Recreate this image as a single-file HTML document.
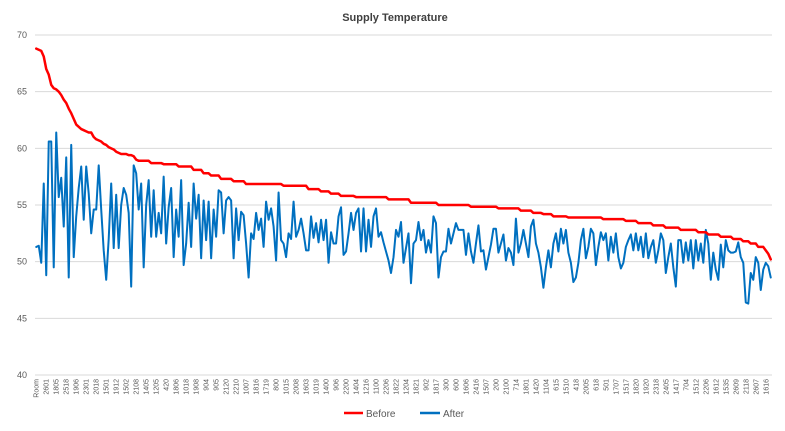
<!DOCTYPE html>
<html><head><meta charset="utf-8">
<style>
html,body{margin:0;padding:0;background:#fff;}
svg{display:block;font-family:"Liberation Sans",sans-serif;}
</style></head>
<body>
<svg id="chart" width="785" height="431" viewBox="0 0 785 431" xmlns="http://www.w3.org/2000/svg">
<rect x="0" y="0" width="785" height="431" fill="#fff"/>
<text x="395" y="21" text-anchor="middle" font-size="11" font-weight="bold" fill="#404040">Supply Temperature</text>
<g id="grid"></g>
<g id="yaxis"></g>
<g id="xaxis"></g>
<g id="series"></g>
<g>
<g>
<line x1="344" y1="413" x2="363" y2="413" stroke="#ff0000" stroke-width="2.5"/>
<text x="366" y="417" font-size="10" fill="#595959">Before</text>
</g>
<g>
<line x1="420" y1="413" x2="440" y2="413" stroke="#0070c0" stroke-width="2.5"/>
<text x="443" y="417" font-size="10" fill="#595959">After</text>
</g>
</g>
</svg>
<script>
const tickLabels = ["Room","2601","1805","2518","1906","2301","2018","1501","1912","1502","2108","1405","1205","420","1806","1018","1908","904","905","2120","2210","1007","1816","1719","800","1015","2008","1603","1019","1400","906","2200","1404","1216","1100","2206","1822","1204","1821","902","1817","300","600","1606","2416","1507","200","2100","714","1801","1420","1104","615","1510","418","2005","618","501","1707","1517","1820","1920","2318","2405","1417","704","1512","2206","1612","1535","2609","2118","2607","1616"];
const yTicks = [40,45,50,55,60,65,70];
const beforeValues = [
68.8,68.7,68.6,
68.1,67.0,66.5,65.6,65.3,65.2,65.0,64.7,64.3,64.0,
63.5,63.1,62.6,62.1,61.9,61.7,61.6,61.5,61.4,61.4,
61.0,60.8,60.7,60.6,60.4,60.3,60.1,60.0,59.9,59.7,
59.6,59.5,59.5,59.5,59.4,59.4,59.3,
59.0,58.9,58.9,58.9,58.9,58.9,
58.7,58.7,58.7,58.7,58.7,
58.6,58.6,58.6,58.6,58.6,58.6,
58.4,58.4,58.4,58.4,58.4,58.4,
58.1,58.1,58.1,58.1,
57.8,57.8,57.8,
57.6,57.6,57.6,57.6,
57.3,57.3,57.3,57.3,57.3,
57.1,57.1,57.1,57.1,57.1,
56.85,56.85,56.85,56.85,56.85,56.85,56.85,56.85,56.85,56.85,56.85,56.85,56.85,56.85,56.85,
56.7,56.7,56.7,56.7,56.7,56.7,56.7,56.7,56.7,56.7,
56.4,56.4,56.4,56.4,56.4,
56.2,56.2,56.2,56.2,
56.0,56.0,56.0,56.0,
55.8,55.8,55.8,55.8,55.8,55.8,
55.7,55.7,55.7,55.7,55.7,55.7,55.7,55.7,55.7,55.7,55.7,55.7,55.7,
55.5,55.5,55.5,55.5,55.5,55.5,55.5,55.5,55.5,
55.2,55.2,55.2,55.2,55.2,55.2,55.2,55.2,55.2,55.2,55.2,
55.0,55.0,55.0,55.0,55.0,55.0,55.0,55.0,55.0,55.0,55.0,55.0,55.0,
54.85,54.85,54.85,54.85,54.85,54.85,54.85,54.85,54.85,54.85,54.85,
54.7,54.7,54.7,54.7,54.7,54.7,54.7,54.7,54.7,
54.5,54.5,54.5,54.5,54.5,
54.3,54.3,54.3,54.3,
54.2,54.2,54.2,54.2,
54.0,54.0,54.0,54.0,54.0,54.0,
53.9,53.9,53.9,53.9,53.9,53.9,53.9,53.9,53.9,53.9,53.9,53.9,53.9,53.9,
53.75,53.75,53.75,53.75,53.75,53.75,53.75,53.75,53.75,
53.6,53.6,53.6,53.6,53.6,
53.4,53.4,53.4,53.4,53.4,53.4,
53.2,53.2,53.2,53.2,53.2,
53.0,53.0,53.0,53.0,53.0,53.0,
52.8,52.8,52.8,52.8,52.8,52.8,52.8,
52.6,52.6,52.6,52.6,
52.4,52.4,52.4,52.4,52.4,
52.2,52.2,52.2,52.2,52.2,
52.0,52.0,52.0,52.0,
51.8,51.8,51.8,
51.6,51.6,51.6,
51.3,51.3,51.3,
51.0,50.7,50.2];
const afterValues = [
51.3,51.4,49.9,56.9,48.8,60.6,60.6,49.5,61.4,55.7,57.4,53.1,59.2,48.6,60.3,50.4,54,56.5,58.4,53.7,58.4,56,52.5,54.6,54.6,58.5,54.6,51,48.4,52,56.9,51.2,55.9,51.2,55.0,56.5,
55.9,54.3,47.8,58.5,57.8,54.6,56.9,49.5,55.0,57.2,52.2,56.3,52.2,54.3,52.5,57.5,51.6,54.8,56.5,50.4,54.6,52.2,57.2,49.7,51.6,55.2,51.3,56.9,53.8,55.9,50.3,55.4,51.9,55.3,50.3,54.6,52.2,56.3,
56.1,52.5,55.4,55.7,55.4,50.3,54.7,51.9,54.4,54.1,51.6,48.6,52.5,52.0,54.3,52.8,53.8,51.3,55.3,53.7,54.7,53.1,50.1,56.1,51.9,51.6,50.4,52.5,52.0,55.3,52.2,52.8,53.8,52.5,51.0,51.0,54.0,52.1,
53.4,51.7,53.7,51.9,53.7,49.9,52.6,51.6,51.6,54.0,54.8,50.6,50.9,52.5,54.3,52.8,54.3,54.7,50.9,54.7,50.9,53.7,51.3,54.0,54.7,52.2,52.6,51.7,50.9,50.1,49.0,50.4,52.8,52.2,53.5,49.9,51.2,52.5,48.1,
51.6,51.9,53.5,51.9,52.8,50.8,51.9,50.8,54.0,53.4,48.6,50.4,50.9,50.9,52.9,51.6,52.5,53.4,52.8,52.8,52.8,50.6,52.5,50.9,49.9,51.6,53.2,50.9,51.0,49.3,50.4,51.5,52.9,52.9,50.8,51.6,52.4,50.1,
51.2,50.8,49.7,53.8,50.8,51.6,52.8,51.6,50.4,53.1,53.7,51.6,50.8,49.5,47.7,49.5,51.0,49.5,51.6,52.5,50.9,52.9,51.6,52.8,50.8,49.9,48.2,48.6,49.9,51.9,52.9,50.3,51.3,52.9,52.5,49.7,51.3,52.6,
51.9,52.5,50.1,52.2,50.8,52.5,50.4,49.4,49.9,51.3,51.9,52.4,51.0,52.5,51.0,52.2,50.4,52.5,50.3,51.3,51.9,49.9,51.0,52.5,51.9,49.0,50.4,51.6,49.5,47.8,51.9,51.9,49.9,51.7,50.1,51.9,49.4,51.9,
50.1,51.6,49.9,52.8,51.6,48.4,50.8,49.3,48.4,51.5,49.5,51.9,51.0,50.8,50.8,50.9,51.7,50.4,49.9,46.4,46.3,49.0,48.4,50.4,49.9,47.5,49.3,49.9,49.6,48.6];

const NS = "http://www.w3.org/2000/svg";
const plotL = 35, plotR = 772, plotT = 35, plotB = 375;
const yMin = 40, yMax = 70;
const N = beforeValues.length;
const step = (plotR - plotL) / N;
function xPos(i){ return plotL + step * (i + 0.5); }
function yPos(v){ return plotB - (v - yMin) / (yMax - yMin) * (plotB - plotT); }

const grid = document.getElementById('grid');
const yaxis = document.getElementById('yaxis');
yTicks.forEach(t => {
  const y = yPos(t);
  const ln = document.createElementNS(NS, 'line');
  ln.setAttribute('x1', plotL); ln.setAttribute('x2', plotR);
  ln.setAttribute('y1', y); ln.setAttribute('y2', y);
  ln.setAttribute('stroke', '#d9d9d9'); ln.setAttribute('stroke-width', '1');
  
  
  grid.appendChild(ln);
  const tx = document.createElementNS(NS, 'text');
  tx.setAttribute('x', 27); tx.setAttribute('y', y + 3);
  tx.setAttribute('text-anchor', 'end'); tx.setAttribute('font-size', '9');
  tx.setAttribute('fill', '#595959');
  tx.textContent = t;
  
  
  yaxis.appendChild(tx);
});

const xaxis = document.getElementById('xaxis');
tickLabels.forEach((lab, k) => {
  const i = k * 4;
  if (i >= N) return;
  const x = xPos(i);
  const tx = document.createElementNS(NS, 'text');
  tx.setAttribute('transform', 'translate(' + (x + 2.5) + ',379) rotate(-90)');
  tx.setAttribute('text-anchor', 'end'); tx.setAttribute('font-size', '7');
  tx.setAttribute('fill', '#595959');
  tx.textContent = lab;
  
  
  xaxis.appendChild(tx);
});

const series = document.getElementById('series');
function drawLine(vals, color, width, name){
  const pts = vals.map((v, i) => xPos(i).toFixed(2) + ',' + yPos(v).toFixed(2)).join(' ');
  const pl = document.createElementNS(NS, 'polyline');
  pl.setAttribute('points', pts);
  pl.setAttribute('fill', 'none');
  pl.setAttribute('stroke', color);
  pl.setAttribute('stroke-width', width);
  pl.setAttribute('stroke-linejoin', 'round');
  pl.setAttribute('stroke-linecap', 'round');
  
  
  series.appendChild(pl);
}
drawLine(afterValues, '#0070c0', 2, 'after-line');
drawLine(beforeValues, '#ff0000', 2.5, 'before-line');
</script>
</body></html>
